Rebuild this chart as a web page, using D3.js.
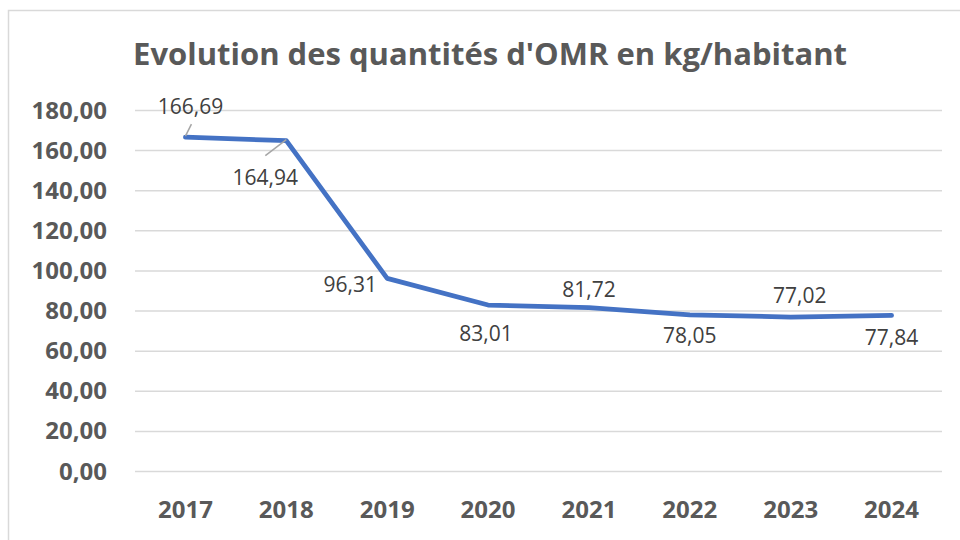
<!DOCTYPE html>
<html>
<head>
<meta charset="utf-8">
<script src="https://cdn.jsdelivr.net/npm/d3@7"></script>
<style>
  body { margin: 0; background: #fff; }
  text { font-family: "Open Sans", sans-serif; }
</style>
</head>
<body>
<div id="chart"></div>
<script>
// data
const years = ["2017", "2018", "2019", "2020", "2021", "2022", "2023", "2024"]
const values = [166.69, 164.94, 96.31, 83.01, 81.72, 78.05, 77.02, 77.84]
const yTicks = [0, 20, 40, 60, 80, 100, 120, 140, 160, 180]
const title = "Evolution des quantités d'OMR en kg/habitant"

// label placement relative to the point (dx, dy to baseline)
const labelOffsets = [
  [5, -23], [-21, 44], [-37, 14], [-2, 36],
  [0, -11], [0, 28], [9, -14], [0, 30],
]
// leader lines for the first two labels (from point to label)
const leaders = [[0, -1, 6, -13], [0, -1, -21, 15]]

const width = 960
const height = 540
const plotLeft = 135
const plotRight = 942
const fmt = v => d3.format(".2f")(v).replace(".", ",")

const svg = d3.select("#chart")
  .append("svg")
  .attr("width", width)
  .attr("height", height)

// chart border
svg.append("rect")
  .attr("x", 8.5)
  .attr("y", 10.5)
  .attr("width", 1000)
  .attr("height", 600)
  .attr("fill", "#fff")
  .attr("stroke", "#d9d9d9")
  .attr("stroke-width", 1.5)

const x = d3.scalePoint()
  .domain(years)
  .range([plotLeft, plotRight])
  .padding(0.5)

const y = d3.scaleLinear()
  .domain([0, 180])
  .range([471.5, 110.5])

// gridlines
svg.append("g")
  .selectAll("line")
  .data(yTicks)
  .enter().append("line")
  .attr("x1", plotLeft)
  .attr("x2", plotRight)
  .attr("y1", d => y(d))
  .attr("y2", d => y(d))
  .attr("stroke", "#d9d9d9")
  .attr("stroke-width", 1.5)

// y labels
svg.append("g")
  .selectAll("text")
  .data(yTicks)
  .enter().append("text")
  .attr("x", 107)
  .attr("y", d => y(d) + 8)
  .attr("text-anchor", "end")
  .attr("font-size", 24)
  .attr("font-weight", "bold")
  .attr("fill", "#595959")
  .text(d => fmt(d))

// x labels
svg.append("g")
  .selectAll("text")
  .data(years)
  .enter().append("text")
  .attr("x", d => x(d))
  .attr("y", 518)
  .attr("text-anchor", "middle")
  .attr("font-size", 24)
  .attr("font-weight", "bold")
  .attr("fill", "#595959")
  .text(d => d)

// title
svg.append("text")
  .attr("x", 490)
  .attr("y", 65)
  .attr("text-anchor", "middle")
  .attr("font-size", 31)
  .attr("font-weight", "bold")
  .attr("fill", "#595959")
  .text(title)

// line
const line = d3.line()
  .x((d, i) => x(years[i]))
  .y(d => y(d))

svg.append("path")
  .datum(values)
  .attr("d", line)
  .attr("fill", "none")
  .attr("stroke", "#4472c4")
  .attr("stroke-width", 4.75)
  .attr("stroke-linejoin", "round")
  .attr("stroke-linecap", "round")

// leader lines
leaders.forEach((l, i) => {
  const px = x(years[i])
  const py = y(values[i])
  svg.append("line")
    .attr("x1", px + l[0])
    .attr("y1", py + l[1])
    .attr("x2", px + l[2])
    .attr("y2", py + l[3])
    .attr("stroke", "#a6a6a6")
    .attr("stroke-width", 1.5)
})

// data labels
svg.append("g")
  .selectAll("text")
  .data(values)
  .enter().append("text")
  .attr("x", (d, i) => x(years[i]) + labelOffsets[i][0])
  .attr("y", (d, i) => y(d) + labelOffsets[i][1])
  .attr("text-anchor", "middle")
  .attr("font-size", 21)
  .attr("fill", "#404040")
  .text(d => fmt(d))
</script>
</body>
</html>
